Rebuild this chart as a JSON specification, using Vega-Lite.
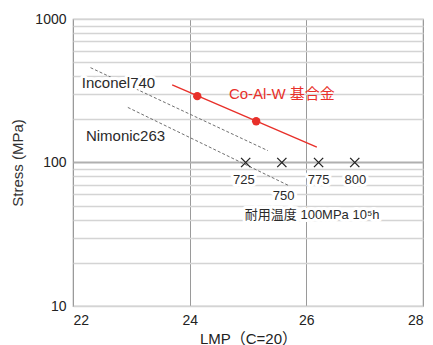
{
  "$schema": "https://vega.github.io/schema/vega-lite/v6.json",
  "width": 350,
  "height": 287,
  "autosize": {"type": "none"},
  "padding": {"left": 73, "top": 19, "right": 10, "bottom": 39},
  "background": "white",
  "config": {
    "font": "Liberation Sans, Noto Sans CJK JP",
    "view": {"stroke": "#a0a0a0", "strokeWidth": 1.2}
  },
  "datasets": {
    "lines": [
      {"series": "Co-Al-W", "lmp": 23.70, "stress": 348},
      {"series": "Co-Al-W", "lmp": 26.18, "stress": 128},
      {"series": "Inconel740", "lmp": 22.30, "stress": 458},
      {"series": "Inconel740", "lmp": 25.34, "stress": 121},
      {"series": "Nimonic263", "lmp": 22.94, "stress": 242},
      {"series": "Nimonic263", "lmp": 25.70, "stress": 69}
    ],
    "points": [
      {"lmp": 24.13, "stress": 290},
      {"lmp": 25.14, "stress": 194}
    ],
    "crosses": [
      {"temp": 725, "lmp": 24.96, "stress": 100},
      {"temp": 750, "lmp": 25.58, "stress": 100},
      {"temp": 775, "lmp": 26.21, "stress": 100},
      {"temp": 800, "lmp": 26.83, "stress": 100}
    ],
    "labels": [
      {"label": "Inconel740", "lmp": 22.78, "stress": 356, "size": "big"},
      {"label": "Nimonic263", "lmp": 22.90, "stress": 153, "size": "big"},
      {"label": "725", "lmp": 24.93, "stress": 75, "size": "small"},
      {"label": "750", "lmp": 25.61, "stress": 58.3, "size": "small"},
      {"label": "775", "lmp": 26.21, "stress": 75, "size": "small"},
      {"label": "800", "lmp": 26.84, "stress": 75, "size": "small"},
      {"label": "耐用温度 100MPa 10⁵h", "lmp": 26.10, "stress": 43, "size": "small"}
    ],
    "redlabel": [
      {"label": "Co-Al-W 基合金", "lmp": 25.58, "stress": 299}
    ]
  },
  "encoding": {
    "x": {
      "field": "lmp", "type": "quantitative",
      "scale": {"domain": [22, 28], "nice": false, "zero": false},
      "axis": {
        "title": "LMP（C=20）",
        "values": [22, 24, 26, 28],
        "grid": true, "gridColor": "#9a9a9a", "gridWidth": 1,
        "domain": false, "ticks": false,
        "labelFontSize": 14, "labelColor": "#222", "labelPadding": 7,
        "labelFont": "Liberation Sans",
        "titleFontSize": 15, "titleFontWeight": "normal", "titleColor": "#222", "titlePadding": 4
      }
    },
    "y": {
      "field": "stress", "type": "quantitative",
      "scale": {"type": "log", "domain": [10, 1000], "nice": false},
      "axis": {
        "title": "Stress (MPa)",
        "values": [10, 20, 30, 40, 50, 60, 70, 80, 90, 100, 200, 300, 400, 500, 600, 700, 800, 900, 1000],
        "labelExpr": "datum.value == 10 || datum.value == 100 || datum.value == 1000 ? format(datum.value, 'd') : ''",
        "grid": true,
        "gridColor": {"condition": {"test": "datum.value == 100", "value": "#b0b0b0"}, "value": "#d4d4d4"},
        "gridWidth": {"condition": {"test": "datum.value == 100", "value": 2}, "value": 1.5},
        "domain": false, "ticks": false,
        "labelFontSize": 14, "labelColor": "#222", "labelPadding": 7,
        "labelOverlap": false,
        "titleFontSize": 15, "titleFontWeight": "normal", "titleColor": "#333", "titlePadding": 9
      }
    }
  },
  "layer": [
    {
      "data": {"name": "lines"},
      "transform": [{"filter": "datum.series != 'Co-Al-W'"}],
      "mark": {"type": "line", "color": "#707070", "strokeWidth": 1, "strokeDash": [3, 2]},
      "encoding": {"detail": {"field": "series"}}
    },
    {
      "data": {"name": "labels"},
      "mark": {"type": "text", "fontSize": 13, "align": "center", "baseline": "middle", "stroke": "white", "strokeWidth": 6, "strokeJoin": "round", "fill": "white"},
      "encoding": {
        "text": {"field": "label"},
        "size": {"field": "size", "type": "nominal", "scale": {"domain": ["big", "small"], "range": [15, 13]}, "legend": null}
      }
    },
    {
      "data": {"name": "labels"},
      "mark": {"type": "text", "align": "center", "baseline": "middle", "color": "#2a2a2a"},
      "encoding": {
        "text": {"field": "label"},
        "size": {"field": "size", "type": "nominal", "scale": {"domain": ["big", "small"], "range": [15, 13]}, "legend": null}
      }
    },
    {
      "data": {"name": "lines"},
      "transform": [{"filter": "datum.series == 'Co-Al-W'"}],
      "mark": {"type": "line", "color": "#e8302a", "strokeWidth": 1.4}
    },
    {
      "data": {"name": "points"},
      "mark": {"type": "point", "filled": true, "color": "#e8302a", "size": 70, "opacity": 1}
    },
    {
      "data": {"name": "crosses"},
      "mark": {"type": "point", "shape": "M-1,-1L1,1M-1,1L1,-1", "filled": false, "color": "#222", "size": 85, "strokeWidth": 1.3, "opacity": 1}
    },
    {
      "data": {"name": "redlabel"},
      "mark": {"type": "text", "fontSize": 15, "align": "center", "baseline": "middle", "color": "#e8302a"},
      "encoding": {"text": {"field": "label"}}
    }
  ]
}
